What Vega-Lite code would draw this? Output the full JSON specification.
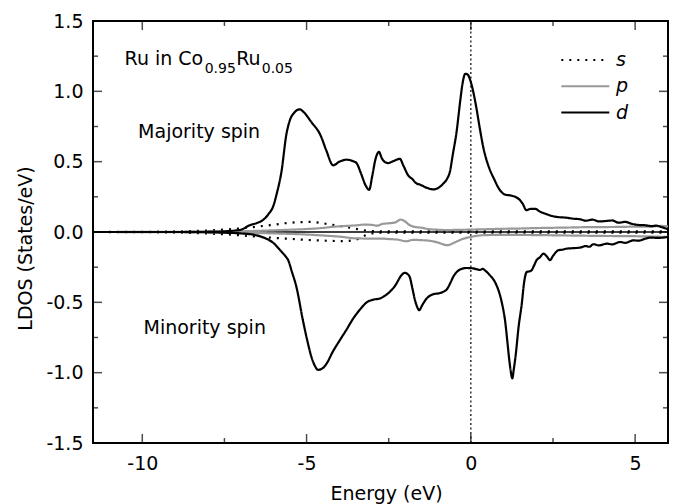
{
  "$schema": "https://vega.github.io/schema/vega-lite/v6.json",
  "width": 575,
  "height": 422,
  "autosize": {"type": "none"},
  "padding": {"left": 93, "top": 21, "right": 12, "bottom": 61},
  "background": "white",
  "config": {
    "font": "DejaVu Sans",
    "view": {"stroke": "#000000", "strokeWidth": 2},
    "axis": {"labelFontSize": 19, "titleFontSize": 19, "titleFontWeight": "normal", "labelColor": "#000000", "titleColor": "#000000", "grid": false, "domain": false, "labelFont": "DejaVu Sans", "titleFont": "DejaVu Sans"},
    "text": {"font": "DejaVu Sans", "color": "#000000"},
    "tick": {"color": "#000000", "thickness": 1.5}
  },
  "encoding": {
    "x": {"field": "E", "type": "quantitative", "scale": {"domain": [-11.5, 6], "nice": false, "zero": false}, "axis": {"orient": "bottom", "values": [-10, -5, 0, 5], "ticks": false, "domain": false, "labelPadding": 11, "labelExpr": "datum.value < 0 ? '-' + format(-datum.value, 'd') : format(datum.value, 'd')", "title": "Energy (eV)", "titleBaseline": "alphabetic", "titleY": 56, "titleX": 293}},
    "y": {"field": "v", "type": "quantitative", "scale": {"domain": [-1.5, 1.5], "nice": false, "zero": false}, "axis": {"orient": "left", "values": [-1.5, -1, -0.5, 0, 0.5, 1, 1.5], "ticks": false, "domain": false, "labelPadding": 10, "labelExpr": "datum.value < 0 ? '-' + format(-datum.value, '.1f') : format(datum.value, '.1f')", "title": "LDOS (States/eV)", "titleBaseline": "alphabetic", "titleAngle": -90, "titleX": -62, "titleY": 227}}
  },
  "layer": [
    {
      "data": {"values": [{"E": -11.5, "E2": 6, "v": 0}]},
      "mark": {"type": "rule", "color": "#000000", "strokeWidth": 1.5},
      "encoding": {"x2": {"field": "E2"}}
    },
    {
      "data": {"values": [{"E": 0, "v": -1.5, "v2": 1.5}]},
      "mark": {"type": "rule", "color": "#000000", "strokeWidth": 1.2, "strokeDash": [2, 2.5]},
      "encoding": {"y2": {"field": "v2"}}
    },
    {
      "data": {"values": [
        {"o":"s","s":"up","E":-11.5,"v":0},{"o":"s","s":"up","E":-10,"v":0.001},{"o":"s","s":"up","E":-9.5,"v":0.002},{"o":"s","s":"up","E":-9,"v":0.004},{"o":"s","s":"up","E":-8.5,"v":0.007},{"o":"s","s":"up","E":-8,"v":0.011},{"o":"s","s":"up","E":-7.5,"v":0.017},{"o":"s","s":"up","E":-7,"v":0.026},{"o":"s","s":"up","E":-6.5,"v":0.038},{"o":"s","s":"up","E":-6,"v":0.052},{"o":"s","s":"up","E":-5.55,"v":0.065},{"o":"s","s":"up","E":-5.2,"v":0.07},{"o":"s","s":"up","E":-4.94,"v":0.072},{"o":"s","s":"up","E":-4.6,"v":0.066},{"o":"s","s":"up","E":-4.4,"v":0.058},{"o":"s","s":"up","E":-4.1,"v":0.047},{"o":"s","s":"up","E":-3.8,"v":0.036},{"o":"s","s":"up","E":-3.5,"v":0.022},{"o":"s","s":"up","E":-3.3,"v":0.014},{"o":"s","s":"up","E":-3.1,"v":0.008},{"o":"s","s":"up","E":-2.8,"v":0.005},{"o":"s","s":"up","E":-2,"v":0.004},{"o":"s","s":"up","E":0,"v":0.004},{"o":"s","s":"up","E":2,"v":0.004},{"o":"s","s":"up","E":4,"v":0.004},{"o":"s","s":"up","E":6,"v":0.004},
        {"o":"s","s":"dn","E":-11.5,"v":0},{"o":"s","s":"dn","E":-10,"v":-0.001},{"o":"s","s":"dn","E":-9.5,"v":-0.002},{"o":"s","s":"dn","E":-9,"v":-0.004},{"o":"s","s":"dn","E":-8.5,"v":-0.007},{"o":"s","s":"dn","E":-8,"v":-0.011},{"o":"s","s":"dn","E":-7.5,"v":-0.016},{"o":"s","s":"dn","E":-7,"v":-0.024},{"o":"s","s":"dn","E":-6.5,"v":-0.033},{"o":"s","s":"dn","E":-6,"v":-0.042},{"o":"s","s":"dn","E":-5.55,"v":-0.048},{"o":"s","s":"dn","E":-5,"v":-0.056},{"o":"s","s":"dn","E":-4.7,"v":-0.059},{"o":"s","s":"dn","E":-4.3,"v":-0.063},{"o":"s","s":"dn","E":-3.9,"v":-0.065},{"o":"s","s":"dn","E":-3.6,"v":-0.06},{"o":"s","s":"dn","E":-3.4,"v":-0.045},{"o":"s","s":"dn","E":-3.2,"v":-0.023},{"o":"s","s":"dn","E":-3.0,"v":-0.01},{"o":"s","s":"dn","E":-2.7,"v":-0.005},{"o":"s","s":"dn","E":-2,"v":-0.004},{"o":"s","s":"dn","E":0,"v":-0.004},{"o":"s","s":"dn","E":2,"v":-0.004},{"o":"s","s":"dn","E":4,"v":-0.004},{"o":"s","s":"dn","E":6,"v":-0.004},
        {"o":"p","s":"up","E":-11.5,"v":0},{"o":"p","s":"up","E":-9,"v":0.001},{"o":"p","s":"up","E":-8,"v":0.002},{"o":"p","s":"up","E":-7,"v":0.005},{"o":"p","s":"up","E":-6.5,"v":0.008},{"o":"p","s":"up","E":-6,"v":0.012},{"o":"p","s":"up","E":-5.5,"v":0.016},{"o":"p","s":"up","E":-5,"v":0.021},{"o":"p","s":"up","E":-4.5,"v":0.029},{"o":"p","s":"up","E":-4.2,"v":0.037},{"o":"p","s":"up","E":-3.8,"v":0.043},{"o":"p","s":"up","E":-3.5,"v":0.047},{"o":"p","s":"up","E":-3.2,"v":0.053},{"o":"p","s":"up","E":-3.0,"v":0.05},{"o":"p","s":"up","E":-2.85,"v":0.045},{"o":"p","s":"up","E":-2.7,"v":0.057},{"o":"p","s":"up","E":-2.5,"v":0.062},{"o":"p","s":"up","E":-2.3,"v":0.068},{"o":"p","s":"up","E":-2.14,"v":0.088},{"o":"p","s":"up","E":-2.0,"v":0.075},{"o":"p","s":"up","E":-1.9,"v":0.055},{"o":"p","s":"up","E":-1.77,"v":0.04},{"o":"p","s":"up","E":-1.5,"v":0.03},{"o":"p","s":"up","E":-1.26,"v":0.02},{"o":"p","s":"up","E":-1.0,"v":0.016},{"o":"p","s":"up","E":-0.75,"v":0.014},{"o":"p","s":"up","E":-0.4,"v":0.015},{"o":"p","s":"up","E":0,"v":0.017},{"o":"p","s":"up","E":0.5,"v":0.02},{"o":"p","s":"up","E":1.0,"v":0.023},{"o":"p","s":"up","E":1.37,"v":0.024},{"o":"p","s":"up","E":2,"v":0.028},{"o":"p","s":"up","E":2.5,"v":0.03},{"o":"p","s":"up","E":3.0,"v":0.032},{"o":"p","s":"up","E":3.4,"v":0.034},{"o":"p","s":"up","E":4,"v":0.035},{"o":"p","s":"up","E":4.5,"v":0.036},{"o":"p","s":"up","E":5,"v":0.038},{"o":"p","s":"up","E":5.44,"v":0.038},{"o":"p","s":"up","E":5.8,"v":0.043},{"o":"p","s":"up","E":6,"v":0.04},
        {"o":"p","s":"dn","E":-11.5,"v":0},{"o":"p","s":"dn","E":-9,"v":-0.001},{"o":"p","s":"dn","E":-8,"v":-0.002},{"o":"p","s":"dn","E":-7,"v":-0.005},{"o":"p","s":"dn","E":-6,"v":-0.01},{"o":"p","s":"dn","E":-5,"v":-0.018},{"o":"p","s":"dn","E":-4.5,"v":-0.025},{"o":"p","s":"dn","E":-4,"v":-0.033},{"o":"p","s":"dn","E":-3.5,"v":-0.045},{"o":"p","s":"dn","E":-3,"v":-0.047},{"o":"p","s":"dn","E":-2.7,"v":-0.047},{"o":"p","s":"dn","E":-2.5,"v":-0.05},{"o":"p","s":"dn","E":-2.2,"v":-0.055},{"o":"p","s":"dn","E":-1.97,"v":-0.066},{"o":"p","s":"dn","E":-1.77,"v":-0.056},{"o":"p","s":"dn","E":-1.5,"v":-0.058},{"o":"p","s":"dn","E":-1.26,"v":-0.062},{"o":"p","s":"dn","E":-1.0,"v":-0.075},{"o":"p","s":"dn","E":-0.72,"v":-0.094},{"o":"p","s":"dn","E":-0.5,"v":-0.075},{"o":"p","s":"dn","E":-0.26,"v":-0.05},{"o":"p","s":"dn","E":0,"v":-0.035},{"o":"p","s":"dn","E":0.35,"v":-0.023},{"o":"p","s":"dn","E":1,"v":-0.02},{"o":"p","s":"dn","E":2,"v":-0.022},{"o":"p","s":"dn","E":3,"v":-0.025},{"o":"p","s":"dn","E":4,"v":-0.028},{"o":"p","s":"dn","E":5,"v":-0.03},{"o":"p","s":"dn","E":6,"v":-0.035},
        {"o":"d","s":"up","E":-11.5,"v":0},{"o":"d","s":"up","E":-9,"v":0},{"o":"d","s":"up","E":-8,"v":0.002},{"o":"d","s":"up","E":-7.5,"v":0.005},{"o":"d","s":"up","E":-7.2,"v":0.01},{"o":"d","s":"up","E":-7.0,"v":0.016},{"o":"d","s":"up","E":-6.73,"v":0.048},{"o":"d","s":"up","E":-6.5,"v":0.065},{"o":"d","s":"up","E":-6.33,"v":0.085},{"o":"d","s":"up","E":-6.15,"v":0.13},{"o":"d","s":"up","E":-6.02,"v":0.18},{"o":"d","s":"up","E":-5.9,"v":0.28},{"o":"d","s":"up","E":-5.77,"v":0.42},{"o":"d","s":"up","E":-5.61,"v":0.70},{"o":"d","s":"up","E":-5.5,"v":0.80},{"o":"d","s":"up","E":-5.37,"v":0.85},{"o":"d","s":"up","E":-5.21,"v":0.872},{"o":"d","s":"up","E":-5.1,"v":0.855},{"o":"d","s":"up","E":-4.85,"v":0.78},{"o":"d","s":"up","E":-4.58,"v":0.69},{"o":"d","s":"up","E":-4.4,"v":0.58},{"o":"d","s":"up","E":-4.19,"v":0.474},{"o":"d","s":"up","E":-4.0,"v":0.5},{"o":"d","s":"up","E":-3.78,"v":0.514},{"o":"d","s":"up","E":-3.6,"v":0.505},{"o":"d","s":"up","E":-3.48,"v":0.49},{"o":"d","s":"up","E":-3.35,"v":0.42},{"o":"d","s":"up","E":-3.2,"v":0.33},{"o":"d","s":"up","E":-3.095,"v":0.30},{"o":"d","s":"up","E":-3.0,"v":0.40},{"o":"d","s":"up","E":-2.9,"v":0.52},{"o":"d","s":"up","E":-2.8,"v":0.569},{"o":"d","s":"up","E":-2.7,"v":0.52},{"o":"d","s":"up","E":-2.6,"v":0.495},{"o":"d","s":"up","E":-2.52,"v":0.49},{"o":"d","s":"up","E":-2.35,"v":0.505},{"o":"d","s":"up","E":-2.16,"v":0.52},{"o":"d","s":"up","E":-2.05,"v":0.47},{"o":"d","s":"up","E":-1.9,"v":0.40},{"o":"d","s":"up","E":-1.8,"v":0.38},{"o":"d","s":"up","E":-1.65,"v":0.345},{"o":"d","s":"up","E":-1.55,"v":0.337},{"o":"d","s":"up","E":-1.35,"v":0.315},{"o":"d","s":"up","E":-1.145,"v":0.303},{"o":"d","s":"up","E":-0.98,"v":0.315},{"o":"d","s":"up","E":-0.84,"v":0.344},{"o":"d","s":"up","E":-0.72,"v":0.38},{"o":"d","s":"up","E":-0.64,"v":0.426},{"o":"d","s":"up","E":-0.55,"v":0.55},{"o":"d","s":"up","E":-0.43,"v":0.72},{"o":"d","s":"up","E":-0.33,"v":0.92},{"o":"d","s":"up","E":-0.25,"v":1.06},{"o":"d","s":"up","E":-0.17,"v":1.125},{"o":"d","s":"up","E":-0.1,"v":1.12},{"o":"d","s":"up","E":-0.02,"v":1.08},{"o":"d","s":"up","E":0.07,"v":1.0},{"o":"d","s":"up","E":0.17,"v":0.88},{"o":"d","s":"up","E":0.27,"v":0.74},{"o":"d","s":"up","E":0.38,"v":0.60},{"o":"d","s":"up","E":0.55,"v":0.46},{"o":"d","s":"up","E":0.7,"v":0.38},{"o":"d","s":"up","E":0.89,"v":0.296},{"o":"d","s":"up","E":1.05,"v":0.265},{"o":"d","s":"up","E":1.2,"v":0.26},{"o":"d","s":"up","E":1.35,"v":0.25},{"o":"d","s":"up","E":1.48,"v":0.23},{"o":"d","s":"up","E":1.58,"v":0.2},{"o":"d","s":"up","E":1.69,"v":0.155},{"o":"d","s":"up","E":1.82,"v":0.165},{"o":"d","s":"up","E":1.96,"v":0.165},{"o":"d","s":"up","E":2.1,"v":0.145},{"o":"d","s":"up","E":2.29,"v":0.128},{"o":"d","s":"up","E":2.5,"v":0.112},{"o":"d","s":"up","E":2.7,"v":0.105},{"o":"d","s":"up","E":2.9,"v":0.102},{"o":"d","s":"up","E":3.1,"v":0.095},{"o":"d","s":"up","E":3.34,"v":0.09},{"o":"d","s":"up","E":3.5,"v":0.08},{"o":"d","s":"up","E":3.7,"v":0.088},{"o":"d","s":"up","E":3.9,"v":0.075},{"o":"d","s":"up","E":4.1,"v":0.078},{"o":"d","s":"up","E":4.3,"v":0.082},{"o":"d","s":"up","E":4.5,"v":0.066},{"o":"d","s":"up","E":4.7,"v":0.072},{"o":"d","s":"up","E":4.9,"v":0.058},{"o":"d","s":"up","E":5.1,"v":0.05},{"o":"d","s":"up","E":5.3,"v":0.048},{"o":"d","s":"up","E":5.5,"v":0.042},{"o":"d","s":"up","E":5.65,"v":0.045},{"o":"d","s":"up","E":5.8,"v":0.035},{"o":"d","s":"up","E":6.0,"v":0.02},
        {"o":"d","s":"dn","E":-11.5,"v":0},{"o":"d","s":"dn","E":-9,"v":0},{"o":"d","s":"dn","E":-8,"v":-0.002},{"o":"d","s":"dn","E":-7.5,"v":-0.005},{"o":"d","s":"dn","E":-7.0,"v":-0.01},{"o":"d","s":"dn","E":-6.6,"v":-0.02},{"o":"d","s":"dn","E":-6.3,"v":-0.04},{"o":"d","s":"dn","E":-6.0,"v":-0.08},{"o":"d","s":"dn","E":-5.8,"v":-0.13},{"o":"d","s":"dn","E":-5.65,"v":-0.17},{"o":"d","s":"dn","E":-5.56,"v":-0.20},{"o":"d","s":"dn","E":-5.45,"v":-0.28},{"o":"d","s":"dn","E":-5.31,"v":-0.39},{"o":"d","s":"dn","E":-5.11,"v":-0.63},{"o":"d","s":"dn","E":-4.98,"v":-0.77},{"o":"d","s":"dn","E":-4.85,"v":-0.89},{"o":"d","s":"dn","E":-4.75,"v":-0.95},{"o":"d","s":"dn","E":-4.65,"v":-0.98},{"o":"d","s":"dn","E":-4.52,"v":-0.97},{"o":"d","s":"dn","E":-4.39,"v":-0.935},{"o":"d","s":"dn","E":-4.2,"v":-0.85},{"o":"d","s":"dn","E":-3.99,"v":-0.77},{"o":"d","s":"dn","E":-3.8,"v":-0.70},{"o":"d","s":"dn","E":-3.58,"v":-0.615},{"o":"d","s":"dn","E":-3.37,"v":-0.55},{"o":"d","s":"dn","E":-3.17,"v":-0.50},{"o":"d","s":"dn","E":-2.95,"v":-0.48},{"o":"d","s":"dn","E":-2.77,"v":-0.473},{"o":"d","s":"dn","E":-2.6,"v":-0.45},{"o":"d","s":"dn","E":-2.47,"v":-0.426},{"o":"d","s":"dn","E":-2.3,"v":-0.38},{"o":"d","s":"dn","E":-2.12,"v":-0.31},{"o":"d","s":"dn","E":-2.01,"v":-0.29},{"o":"d","s":"dn","E":-1.92,"v":-0.30},{"o":"d","s":"dn","E":-1.86,"v":-0.32},{"o":"d","s":"dn","E":-1.78,"v":-0.40},{"o":"d","s":"dn","E":-1.70,"v":-0.485},{"o":"d","s":"dn","E":-1.62,"v":-0.54},{"o":"d","s":"dn","E":-1.57,"v":-0.556},{"o":"d","s":"dn","E":-1.48,"v":-0.52},{"o":"d","s":"dn","E":-1.35,"v":-0.474},{"o":"d","s":"dn","E":-1.15,"v":-0.443},{"o":"d","s":"dn","E":-0.94,"v":-0.434},{"o":"d","s":"dn","E":-0.8,"v":-0.42},{"o":"d","s":"dn","E":-0.74,"v":-0.41},{"o":"d","s":"dn","E":-0.62,"v":-0.36},{"o":"d","s":"dn","E":-0.54,"v":-0.32},{"o":"d","s":"dn","E":-0.43,"v":-0.285},{"o":"d","s":"dn","E":-0.33,"v":-0.267},{"o":"d","s":"dn","E":-0.13,"v":-0.256},{"o":"d","s":"dn","E":0.05,"v":-0.258},{"o":"d","s":"dn","E":0.18,"v":-0.265},{"o":"d","s":"dn","E":0.28,"v":-0.27},{"o":"d","s":"dn","E":0.36,"v":-0.262},{"o":"d","s":"dn","E":0.44,"v":-0.275},{"o":"d","s":"dn","E":0.58,"v":-0.308},{"o":"d","s":"dn","E":0.72,"v":-0.35},{"o":"d","s":"dn","E":0.84,"v":-0.414},{"o":"d","s":"dn","E":0.95,"v":-0.51},{"o":"d","s":"dn","E":1.04,"v":-0.628},{"o":"d","s":"dn","E":1.12,"v":-0.80},{"o":"d","s":"dn","E":1.17,"v":-0.91},{"o":"d","s":"dn","E":1.22,"v":-1.0},{"o":"d","s":"dn","E":1.26,"v":-1.04},{"o":"d","s":"dn","E":1.31,"v":-0.97},{"o":"d","s":"dn","E":1.37,"v":-0.864},{"o":"d","s":"dn","E":1.45,"v":-0.68},{"o":"d","s":"dn","E":1.55,"v":-0.51},{"o":"d","s":"dn","E":1.62,"v":-0.36},{"o":"d","s":"dn","E":1.70,"v":-0.284},{"o":"d","s":"dn","E":1.78,"v":-0.28},{"o":"d","s":"dn","E":1.85,"v":-0.272},{"o":"d","s":"dn","E":1.92,"v":-0.24},{"o":"d","s":"dn","E":2.0,"v":-0.20},{"o":"d","s":"dn","E":2.1,"v":-0.18},{"o":"d","s":"dn","E":2.21,"v":-0.154},{"o":"d","s":"dn","E":2.3,"v":-0.17},{"o":"d","s":"dn","E":2.41,"v":-0.20},{"o":"d","s":"dn","E":2.5,"v":-0.17},{"o":"d","s":"dn","E":2.66,"v":-0.13},{"o":"d","s":"dn","E":2.8,"v":-0.125},{"o":"d","s":"dn","E":2.92,"v":-0.118},{"o":"d","s":"dn","E":3.1,"v":-0.115},{"o":"d","s":"dn","E":3.32,"v":-0.111},{"o":"d","s":"dn","E":3.5,"v":-0.1},{"o":"d","s":"dn","E":3.6,"v":-0.105},{"o":"d","s":"dn","E":3.73,"v":-0.087},{"o":"d","s":"dn","E":3.9,"v":-0.095},{"o":"d","s":"dn","E":4.14,"v":-0.083},{"o":"d","s":"dn","E":4.3,"v":-0.088},{"o":"d","s":"dn","E":4.54,"v":-0.071},{"o":"d","s":"dn","E":4.7,"v":-0.077},{"o":"d","s":"dn","E":4.95,"v":-0.059},{"o":"d","s":"dn","E":5.1,"v":-0.062},{"o":"d","s":"dn","E":5.3,"v":-0.048},{"o":"d","s":"dn","E":5.46,"v":-0.04},{"o":"d","s":"dn","E":5.7,"v":-0.042},{"o":"d","s":"dn","E":6.0,"v":-0.035}
      ]},
      "mark": {"type": "line", "strokeWidth": 2.2, "interpolate": "monotone"},
      "encoding": {
        "color": {"field": "o", "type": "nominal", "scale": {"domain": ["s", "p", "d"], "range": ["#000000", "#999999", "#000000"]}, "legend": {"orient": "none", "legendX": 500, "legendY": 29.5, "title": null, "padding": 0, "labelFontSize": 19, "labelFontStyle": "italic", "labelFont": "DejaVu Sans", "labelColor": "#000000", "labelOffset": 4, "rowPadding": 6.3, "symbolType": "M-5.15,0H0.85", "symbolSize": 256, "symbolStrokeWidth": 2}},
        "strokeDash": {"field": "o", "type": "nominal", "scale": {"domain": ["s", "p", "d"], "range": [[2, 6], [1, 0], [1, 0]]}, "legend": {"orient": "none", "legendX": 500, "legendY": 29.5, "title": null, "padding": 0, "labelFontSize": 19, "labelFontStyle": "italic", "labelFont": "DejaVu Sans", "labelColor": "#000000", "labelOffset": 4, "rowPadding": 6.3, "symbolType": "M-5.15,0H0.85", "symbolSize": 256, "symbolStrokeWidth": 2}},
        "detail": {"field": "s", "type": "nominal"}
      }
    },
    {
      "data": {"values": [{"E": -10, "v": -1.5}, {"E": -5, "v": -1.5}, {"E": 0, "v": -1.5}, {"E": 5, "v": -1.5}]},
      "mark": {"type": "tick", "orient": "vertical", "size": 9, "thickness": 1.5, "color": "#000000", "yOffset": -4.5}
    },
    {
      "data": {"values": [{"E": -10, "v": 1.5}, {"E": -5, "v": 1.5}, {"E": 0, "v": 1.5}, {"E": 5, "v": 1.5}]},
      "mark": {"type": "tick", "orient": "vertical", "size": 9, "thickness": 1.5, "color": "#000000", "yOffset": 4.5}
    },
    {
      "data": {"values": [{"E": -7.5, "v": -1.5}, {"E": -2.5, "v": -1.5}, {"E": 2.5, "v": -1.5}]},
      "mark": {"type": "tick", "orient": "vertical", "size": 5, "thickness": 1.5, "color": "#000000", "yOffset": -2.5}
    },
    {
      "data": {"values": [{"E": -7.5, "v": 1.5}, {"E": -2.5, "v": 1.5}, {"E": 2.5, "v": 1.5}]},
      "mark": {"type": "tick", "orient": "vertical", "size": 5, "thickness": 1.5, "color": "#000000", "yOffset": 2.5}
    },
    {
      "data": {"values": [{"E": -11.5, "v": -1}, {"E": -11.5, "v": -0.5}, {"E": -11.5, "v": 0}, {"E": -11.5, "v": 0.5}, {"E": -11.5, "v": 1}]},
      "mark": {"type": "tick", "orient": "horizontal", "size": 9, "thickness": 1.5, "color": "#000000", "xOffset": 4.5}
    },
    {
      "data": {"values": [{"E": 6, "v": -1}, {"E": 6, "v": -0.5}, {"E": 6, "v": 0}, {"E": 6, "v": 0.5}, {"E": 6, "v": 1}]},
      "mark": {"type": "tick", "orient": "horizontal", "size": 9, "thickness": 1.5, "color": "#000000", "xOffset": -4.5}
    },
    {
      "data": {"values": [{"E": -11.5, "v": -1.25}, {"E": -11.5, "v": -0.75}, {"E": -11.5, "v": -0.25}, {"E": -11.5, "v": 0.25}, {"E": -11.5, "v": 0.75}, {"E": -11.5, "v": 1.25}]},
      "mark": {"type": "tick", "orient": "horizontal", "size": 5, "thickness": 1.5, "color": "#000000", "xOffset": 2.5}
    },
    {
      "data": {"values": [{"E": 6, "v": -1.25}, {"E": 6, "v": -0.75}, {"E": 6, "v": -0.25}, {"E": 6, "v": 0.25}, {"E": 6, "v": 0.75}, {"E": 6, "v": 1.25}]},
      "mark": {"type": "tick", "orient": "horizontal", "size": 5, "thickness": 1.5, "color": "#000000", "xOffset": -2.5}
    },
    {
      "data": {"values": [{"E": -8.27, "v": 0.71, "t": "Majority spin"}, {"E": -8.1, "v": -0.685, "t": "Minority spin"}]},
      "mark": {"type": "text", "fontSize": 19, "align": "center", "baseline": "middle", "color": "#000000"},
      "encoding": {"text": {"field": "t"}}
    },
    {
      "data": {"values": [{"E": -10.54, "v": 1.185, "t": "Ru in Co"}, {"E": -7.142, "v": 1.185, "t": "Ru"}]},
      "mark": {"type": "text", "fontSize": 19, "align": "left", "baseline": "alphabetic", "color": "#000000"},
      "encoding": {"text": {"field": "t"}}
    },
    {
      "data": {"values": [{"E": -8.10, "v": 1.13, "t": "0.95"}, {"E": -6.365, "v": 1.13, "t": "0.05"}]},
      "mark": {"type": "text", "fontSize": 14, "align": "left", "baseline": "alphabetic", "color": "#000000"},
      "encoding": {"text": {"field": "t"}}
    }
  ]
}
